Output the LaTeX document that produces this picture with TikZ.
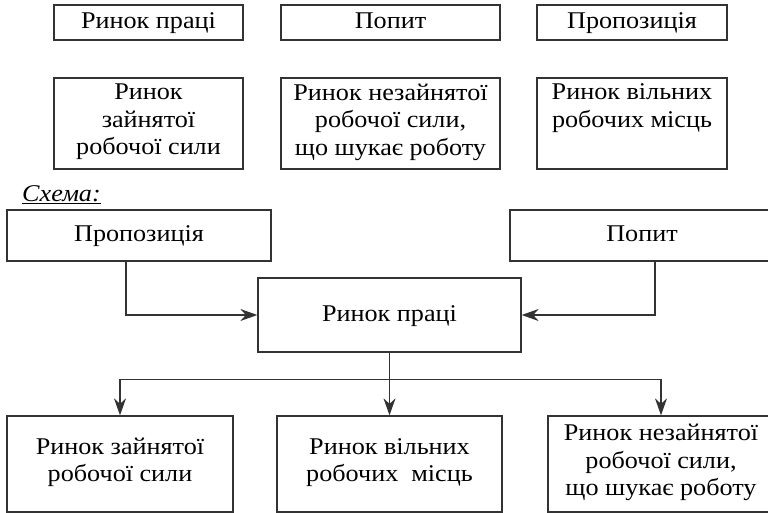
\documentclass[tikz,border=0pt]{standalone}
\usepackage{fontspec}
\setmainfont[FakeStretch=1.09]{Liberation Serif}
\usepackage{tikz}
\usetikzlibrary{arrows.meta}

\newcommand\boxstrut{\rule[-8pt]{0pt}{28pt}}

\begin{document}
\begin{tikzpicture}[x=1pt, y=-1pt,
    box/.style={draw=black!80, line width=1.3pt, align=center, inner sep=0pt,
        font=\fontsize{24}{27.5}\selectfont,
        execute at begin node=\boxstrut, execute at end node=\boxstrut},
    link/.style={draw=black!80, line width=1.3pt},
    arr/.style={link, -{Stealth[length=17pt, width=12pt]}}]
    % Page area 768 x 513, y grows downwards
    \useasboundingbox (0, 0) rectangle (768, 513);

    % Terms: top row
    \node[box, minimum width=189pt, minimum height=35pt] (tPraci) at (148.5, 22.5) {Ринок праці};
    \node[box, minimum width=219pt, minimum height=35pt] (tPopyt) at (390.5, 22.5) {Попит};
    \node[box, minimum width=190pt, minimum height=35pt] (tProp) at (632, 22.5) {Пропозиція};

    % Terms: second row
    \node[box, minimum width=189pt, minimum height=91pt] (tZain) at (148.5, 123.5) {Ринок\\зайнятої\\робочої сили};
    \node[box, minimum width=219pt, minimum height=91pt] (tNez) at (390.5, 123.5) {Ринок незайнятої\\робочої сили,\\що шукає роботу};
    \node[box, minimum width=190pt, minimum height=91pt] (tVil) at (632, 123.5) {Ринок вільних\\робочих місць\\};

    % Scheme caption
    \node[anchor=base west, inner sep=0pt, font=\fontsize{24}{27.5}\selectfont\itshape] (schema) at (22, 201) {\underline{Схема:}};

    % Scheme: inputs
    \node[box, minimum width=264pt, minimum height=51pt] (prop) at (139, 235.5) {Пропозиція};
    \node[box, minimum width=264pt, minimum height=51pt] (popyt) at (642, 235.5) {Попит};

    % Scheme: labour market
    \node[box, minimum width=263pt, minimum height=74pt] (rynok) at (389.5, 315) {Ринок праці};

    % Scheme: outputs
    \node[box, minimum width=226pt, minimum height=96pt] (bZain) at (120, 464) {Ринок зайнятої\\робочої сили};
    \node[box, minimum width=225pt, minimum height=96pt] (bVil) at (389.5, 464) {Ринок вільних\\робочих \ місць};
    \node[box, minimum width=226pt, minimum height=96pt] (bNez) at (661, 464) {Ринок незайнятої\\робочої сили,\\що шукає роботу};

    % Connectors
    \draw[arr] ([xshift=-13pt]prop.south) |- (rynok.west);
    \draw[arr] ([xshift=13pt]popyt.south) |- (rynok.east);
    \draw[link] (rynok.south) -- ++(0, 27) coordinate (bus);
    \draw[arr] (bus) -| (bZain.north);
    \draw[arr] (bus) -- (bVil.north);
    \draw[arr] (bus) -| (bNez.north);
\end{tikzpicture}
\end{document}
